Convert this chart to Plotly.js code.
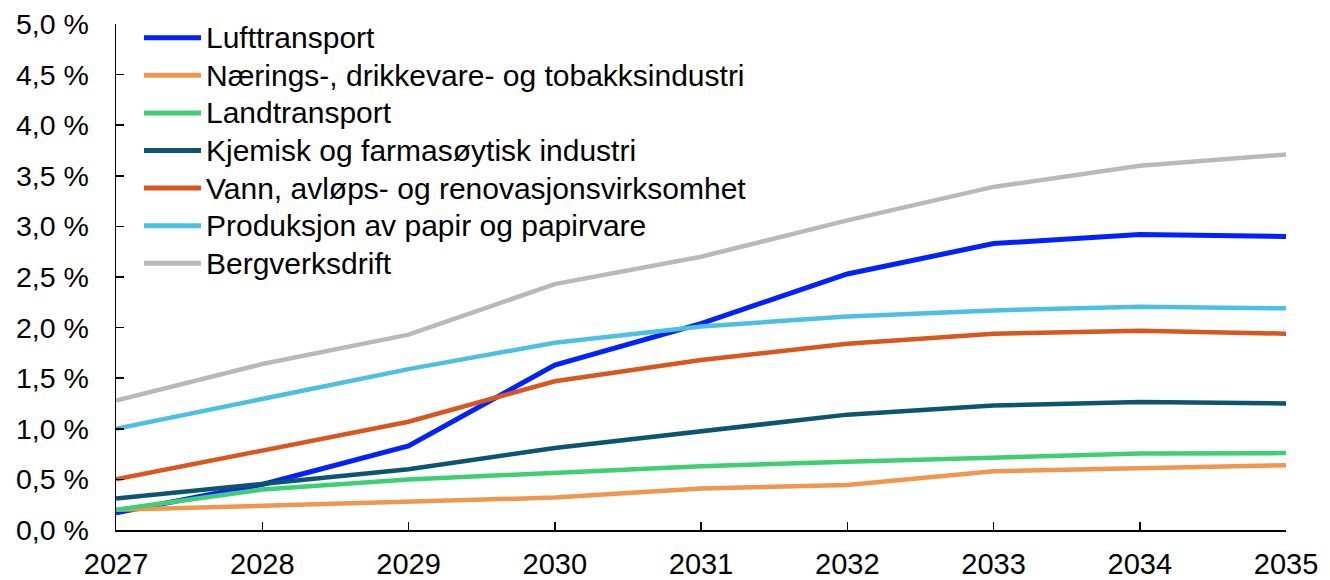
<!DOCTYPE html>
<html><head><meta charset="utf-8">
<script src="https://cdn.plot.ly/plotly-3.0.1.min.js"></script>
<style>html,body{margin:0;padding:0;background:#fff}</style>
</head><body><div id="chart" style="width:1330px;height:580px"></div>
<script>
const years = [2027, 2028, 2029, 2030, 2031, 2032, 2033, 2034, 2035];
const seriesNames = [
  "Lufttransport",
  "Nærings-, drikkevare- og tobakksindustri",
  "Landtransport",
  "Kjemisk og farmasøytisk industri",
  "Vann, avløps- og renovasjonsvirksomhet",
  "Produksjon av papir og papirvare",
  "Bergverksdrift"
];
const lufttransport = [0.17, 0.45, 0.83, 1.63, 2.04, 2.53, 2.83, 2.92, 2.90];
const naerings      = [0.20, 0.24, 0.28, 0.32, 0.41, 0.445, 0.58, 0.61, 0.64];
const landtransport = [0.20, 0.40, 0.50, 0.57, 0.63, 0.675, 0.72, 0.755, 0.76];
const kjemisk       = [0.31, 0.45, 0.60, 0.81, 0.98, 1.14, 1.23, 1.265, 1.25];
const vann          = [0.50, 0.79, 1.07, 1.47, 1.68, 1.84, 1.94, 1.97, 1.94];
const papir         = [1.00, 1.30, 1.59, 1.85, 2.01, 2.11, 2.17, 2.205, 2.19];
const bergverk      = [1.28, 1.64, 1.93, 2.43, 2.70, 3.06, 3.39, 3.60, 3.71];
const colors = ["#0022FF", "#F0964E", "#3ECF72", "#0B5573", "#D9561F", "#4CC0E2", "#B9B9B9"];
const yTickVals = [0, 0.5, 1, 1.5, 2, 2.5, 3, 3.5, 4, 4.5, 5];
const yTickText = ["0,0 %", "0,5 %", "1,0 %", "1,5 %", "2,0 %", "2,5 %", "3,0 %", "3,5 %", "4,0 %", "4,5 %", "5,0 %"];
const xTickText = ["2027", "2028", "2029", "2030", "2031", "2032", "2033", "2034", "2035"];

const allValues = [lufttransport, naerings, landtransport, kjemisk, vann, papir, bergverk];
const FONT = "Liberation Sans, Arial, sans-serif";

const traces = allValues.map((vals, i) => ({
  x: years, y: vals, type: "scatter", mode: "lines", name: seriesNames[i],
  line: {color: colors[i], width: i === 0 ? 5 : 4.5},
  showlegend: false, hoverinfo: "skip"
}));

// custom legend (plot area: x 116..1286 px, y 24..530 px)
const plotL = 116, plotW = 1170, plotB = 530, plotH = 506;
const shapes = [], annotations = [];
seriesNames.forEach((nm, i) => {
  const py = 37.7 + 37.6 * i;
  const yp = (plotB - py) / plotH;
  shapes.push({type: "line", xref: "paper", yref: "paper",
    x0: (144 - plotL) / plotW, x1: (201 - plotL) / plotW, y0: yp, y1: yp,
    line: {color: colors[i], width: 5}});
  annotations.push({xref: "paper", yref: "paper", x: (204 - plotL) / plotW, y: yp,
    xanchor: "left", yanchor: "middle", showarrow: false, text: nm,
    font: {family: FONT, size: 30, color: "#000"}});
});

const layout = {
  width: 1330, height: 580,
  margin: {l: 116, r: 44, t: 24, b: 50},
  paper_bgcolor: "#fff", plot_bgcolor: "#fff",
  showlegend: false,
  font: {family: FONT, size: 28, color: "#000"},
  xaxis: {
    range: [2027, 2035], tickmode: "array", tickvals: years, ticktext: xTickText,
    showline: true, linecolor: "#000", linewidth: 1.5,
    ticks: "inside", ticklen: 8, tickwidth: 1.5, tickcolor: "#000",
    showgrid: false, zeroline: false, ticklabelstandoff: 8,
    tickfont: {family: FONT, size: 29, color: "#000"}
  },
  yaxis: {
    range: [0, 5], tickmode: "array", tickvals: yTickVals, ticktext: yTickText,
    showline: true, linecolor: "#000", linewidth: 1.5,
    ticks: "inside", ticklen: 8, tickwidth: 1.5, tickcolor: "#000",
    showgrid: false, zeroline: false, ticklabelstandoff: 20,
    tickfont: {family: FONT, size: 28.5, color: "#000"}
  },
  shapes: shapes,
  annotations: annotations
};

Plotly.newPlot("chart", traces, layout, {displayModeBar: false, staticPlot: true});
</script>
</body></html>
